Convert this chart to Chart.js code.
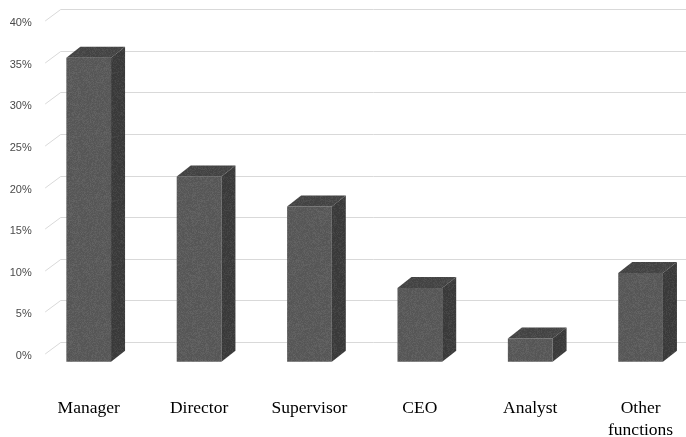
<!DOCTYPE html>
<html>
<head>
<meta charset="utf-8">
<script src="https://cdn.jsdelivr.net/npm/chart.js@4/dist/chart.umd.min.js"></script>
<style>
  html, body { margin: 0; padding: 0; background: #ffffff; }
  #wrap { width: 686px; height: 437px; }
</style>
</head>
<body>
<div id="wrap"><canvas id="c" width="686" height="437"></canvas></div>
<script>
// Share of respondents by job function (percent)
const categories = ['Manager', 'Director', 'Supervisor', 'CEO', 'Analyst', ['Other', 'functions']];
const shares = [35.5, 21.2, 17.6, 7.8, 1.7, 9.6];
const tickValues = [0, 5, 10, 15, 20, 25, 30, 35, 40];

// Oblique depth of the 3D columns and the back wall
const DEPTH_X = 14;
const DEPTH_Y = 11;
const WALL_INSET = 28;      // back wall starts this far left of the first column centre
const FLOOR_DROP = 20;      // column fronts stand this far below the wall baseline

const faceFront = '#5a5a5a';
const faceTop = '#464646';
const faceSide = '#3c3c3c';
const gridColor = '#d9d9d9';

// Integer hash used for the speckle texture
function hash32(n) {
  let h = Math.imul(n + 0x9e3779b9, 0x85ebca6b) >>> 0;
  h ^= h >>> 15;
  h = Math.imul(h, 0x2c1b3c6d) >>> 0;
  h ^= h >>> 12;
  h = Math.imul(h, 0x297a2d39) >>> 0;
  h ^= h >>> 15;
  return h >>> 0;
}

// Fine speckle texture laid over the column faces
function makeGrain() {
  const size = 64;
  const c = document.createElement('canvas');
  c.width = size; c.height = size;
  const g = c.getContext('2d');
  const img = g.createImageData(size, size);
  for (let i = 0; i < size * size; i++) {
    const h = hash32(i);
    const light = (h & 1) === 0;
    const a = (h >>> 9) % 17;
    const k = i * 4;
    img.data[k] = img.data[k + 1] = img.data[k + 2] = light ? 255 : 0;
    img.data[k + 3] = a;
  }
  g.putImageData(img, 0, 0);
  return c;
}

// Fixed axis sizes; the label overhang padding is not needed here
function fixSize(prop, size) {
  return scale => {
    scale[prop] = size;
    scale.paddingTop = 0;
    scale.paddingBottom = 0;
    scale.paddingLeft = 0;
    scale.paddingRight = 0;
  };
}

// Back-wall gridlines with the short receding lines on the left
const wallGrid = {
  id: 'wallGrid',
  beforeDatasetsDraw(chart) {
    const { ctx, chartArea } = chart;
    const y = chart.scales.y;
    const wallLeft = chartArea.left - WALL_INSET;
    ctx.save();
    ctx.strokeStyle = gridColor;
    ctx.lineWidth = 1;
    tickValues.forEach(v => {
      const py = Math.round(y.getPixelForValue(v)) + 0.5;
      ctx.beginPath();
      ctx.moveTo(wallLeft - 15.5, py + 11.5);
      ctx.lineTo(wallLeft, py);
      ctx.lineTo(chart.width, py);
      ctx.stroke();
    });
    ctx.restore();
  }
};

// Draw each column as a box: front face, top face and right side
const columns3d = {
  id: 'columns3d',
  afterDatasetsDraw(chart) {
    const { ctx } = chart;
    const meta = chart.getDatasetMeta(0);
    const grain = ctx.createPattern(makeGrain(), 'repeat');
    const paint = (color, path) => {
      path();
      ctx.fillStyle = color;
      ctx.fill();
      ctx.fillStyle = grain;
      ctx.fill();
    };
    ctx.save();
    meta.data.forEach(bar => {
      const { x, y, base, width } = bar.getProps(['x', 'y', 'base', 'width'], true);
      const l = x - width / 2;
      const r = x + width / 2;
      const top = y + DEPTH_Y;
      const bottom = base + FLOOR_DROP;

      paint(faceFront, () => {
        ctx.beginPath();
        ctx.rect(l, top, r - l, bottom - top);
      });
      paint(faceTop, () => {
        ctx.beginPath();
        ctx.moveTo(l, top);
        ctx.lineTo(l + DEPTH_X, top - DEPTH_Y);
        ctx.lineTo(r + DEPTH_X, top - DEPTH_Y);
        ctx.lineTo(r, top);
        ctx.closePath();
      });
      paint(faceSide, () => {
        ctx.beginPath();
        ctx.moveTo(r, top);
        ctx.lineTo(r + DEPTH_X, top - DEPTH_Y);
        ctx.lineTo(r + DEPTH_X, bottom - DEPTH_Y);
        ctx.lineTo(r, bottom);
        ctx.closePath();
      });
    });
    ctx.restore();
  }
};

new Chart(document.getElementById('c'), {
  type: 'bar',
  data: {
    labels: categories,
    datasets: [{
      data: shares,
      backgroundColor: 'rgba(0,0,0,0)',
      borderWidth: 0,
      categoryPercentage: 1,
      barPercentage: 0.405
    }]
  },
  options: {
    responsive: false,
    animation: false,
    events: [],
    layout: { padding: { top: 9.3, right: 45.4, bottom: 0, left: 0 } },
    plugins: { legend: { display: false }, tooltip: { enabled: false } },
    scales: {
      x: {
        type: 'category',
        offset: false,
        grid: { display: false, drawTicks: false },
        border: { display: false },
        ticks: {
          autoSkip: false,
          maxRotation: 0,
          padding: 56,
          color: '#000000',
          font: { family: '"Liberation Serif", "Times New Roman", serif', size: 17.5, lineHeight: 1.24 }
        },
        afterFit: fixSize('height', 95.3)
      },
      y: {
        min: 0,
        max: 40,
        grid: { display: false, drawTicks: false },
        border: { display: false },
        afterBuildTicks(scale) { scale.ticks = tickValues.map(v => ({ value: v })); },
        ticks: {
          padding: 57,
          labelOffset: 14,
          color: '#4a4a4a',
          font: { family: '"Liberation Sans", Arial, sans-serif', size: 11 },
          callback: v => v + '%'
        },
        afterFit: fixSize('width', 88.7)
      }
    }
  },
  plugins: [wallGrid, columns3d]
});
</script>
</body>
</html>
